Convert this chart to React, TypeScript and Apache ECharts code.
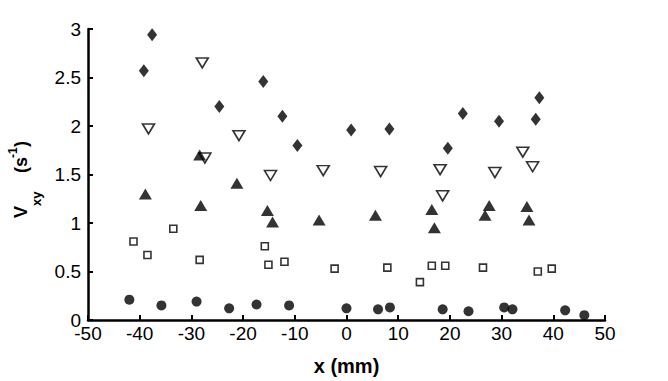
import React, { useEffect, useRef } from "react";
import * as echarts from "echarts";

// x (mm), Vxy (s^-1)
const diamonds: number[][] = [
  [-39.2, 2.57], [-37.6, 2.94], [-24.6, 2.2], [-16.1, 2.46], [-12.4, 2.1], [-9.5, 1.8],
  [0.9, 1.96], [8.3, 1.97], [19.6, 1.77], [22.5, 2.13], [29.5, 2.05], [36.6, 2.07], [37.3, 2.29],
];
const trianglesDown: number[][] = [
  [-38.3, 1.97], [-27.9, 2.65], [-27.4, 1.67], [-20.8, 1.9], [-14.7, 1.49], [-4.5, 1.54],
  [6.6, 1.53], [18.1, 1.55], [18.6, 1.28], [28.7, 1.52], [34.1, 1.73], [36.0, 1.58],
];
const trianglesUp: number[][] = [
  [-38.9, 1.3], [-28.4, 1.7], [-28.2, 1.18], [-21.2, 1.41], [-15.3, 1.13], [-14.3, 1.01],
  [-5.3, 1.03], [5.6, 1.08], [16.5, 1.14], [17.0, 0.95], [26.8, 1.08], [27.6, 1.18],
  [34.9, 1.17], [35.3, 1.03],
];
const squares: number[][] = [
  [-41.2, 0.81], [-38.5, 0.67], [-33.5, 0.94], [-28.4, 0.62], [-15.8, 0.76], [-15.1, 0.57],
  [-12.0, 0.6], [-2.3, 0.53], [7.9, 0.54], [14.2, 0.39], [16.5, 0.56], [19.1, 0.56],
  [26.4, 0.54], [37.0, 0.5], [39.7, 0.53],
];
const circles: number[][] = [
  [-42.0, 0.21], [-35.8, 0.15], [-29.0, 0.19], [-22.7, 0.12], [-17.4, 0.16], [-11.1, 0.15],
  [0.0, 0.12], [6.1, 0.11], [8.4, 0.13], [18.6, 0.11], [23.6, 0.09], [30.5, 0.13],
  [32.1, 0.11], [42.3, 0.1], [46.0, 0.05],
];

const xTicks = { min: -50, max: 50, interval: 10 };
const yTicks = { min: 0, max: 3, interval: 0.5 };

const FONT = "'Liberation Sans', Arial, Helvetica, sans-serif";

export default function App() {
  const ref = useRef<HTMLDivElement>(null);
  useEffect(() => {
    if (!ref.current) return;
    const chart = echarts.init(ref.current, undefined, { renderer: "svg" });
    const axisCommon = {
      axisLine: { show: true, onZero: false, lineStyle: { color: "#000", width: 2.5 } },
      axisTick: { show: true, inside: true, length: 5, lineStyle: { color: "#000", width: 2 } },
      splitLine: { show: false },
    };
    const txt = (text: string, x: number, y: number, size: number) => ({
      type: "text",
      x,
      y,
      style: {
        text,
        font: `bold ${size}px ${FONT}`,
        fill: "#000",
        textAlign: "left",
        textVerticalAlign: "middle",
        align: "left",
        verticalAlign: "middle",
      },
    });
    chart.setOption({
      animation: false,
      backgroundColor: "#fff",
      grid: { left: 88, right: 63, top: 29, bottom: 60, containLabel: false },
      xAxis: {
        type: "value",
        ...xTicks,
        ...axisCommon,
        axisLabel: { color: "#000", fontSize: 19, fontFamily: FONT, margin: 4 },
        name: "x (mm)",
        nameLocation: "middle",
        nameGap: 36,
        nameTextStyle: { color: "#000", fontSize: 20, fontWeight: "bold", fontFamily: FONT },
      },
      yAxis: {
        type: "value",
        ...yTicks,
        ...axisCommon,
        axisLabel: { color: "#000", fontSize: 19, fontFamily: FONT, margin: 7 },
      },
      graphic: [
        {
          type: "group",
          x: 27,
          y: 218,
          rotation: Math.PI / 2,
          children: [
            txt("V", 0, -6, 18),
            txt("xy", 12, 9, 13),
            txt("(s", 45, -6, 18),
            txt("-1", 60, -14, 12),
            txt(")", 71, -6, 18),
          ],
        },
      ],
      series: [
        {
          type: "scatter",
          data: diamonds,
          symbol: "diamond",
          symbolSize: [10, 13],
          itemStyle: { color: "#000" },
        },
        {
          type: "scatter",
          data: trianglesUp,
          symbol: "triangle",
          symbolSize: [13, 11],
          itemStyle: { color: "#000" },
        },
        {
          type: "scatter",
          data: trianglesDown,
          symbol: "triangle",
          symbolRotate: 180,
          symbolSize: [12, 10],
          itemStyle: { color: "rgba(255,255,255,0)", borderColor: "#000", borderWidth: 1.6 },
        },
        {
          type: "scatter",
          data: squares,
          symbol: "rect",
          symbolSize: 7,
          itemStyle: { color: "rgba(255,255,255,0)", borderColor: "#000", borderWidth: 1.6 },
        },
        {
          type: "scatter",
          data: circles,
          symbol: "circle",
          symbolSize: 10,
          itemStyle: { color: "#000" },
        },
      ],
    });
    return () => chart.dispose();
  }, []);
  return (
    <div
      ref={ref}
      style={{ position: "fixed", left: 0, top: 0, width: 668, height: 381, background: "#fff" }}
    />
  );
}
